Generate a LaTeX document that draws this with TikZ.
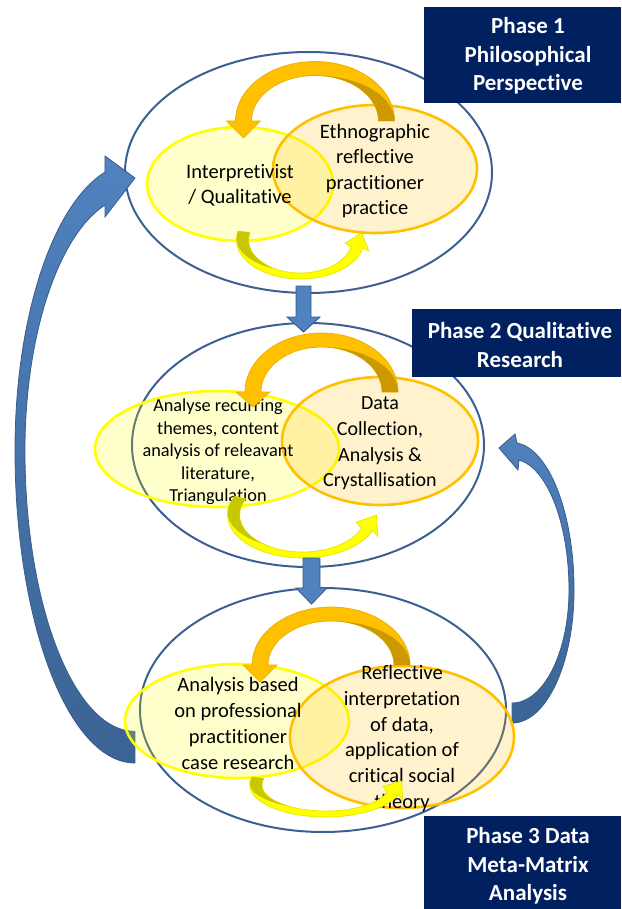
\documentclass[tikz,border=0pt]{standalone}
\usepackage{fontspec}
\setmainfont{Carlito}[Ligatures=NoCommon]
\usetikzlibrary{shapes.geometric}
\definecolor{navy}{HTML}{002060}
\definecolor{blueln}{RGB}{60,96,145}
\definecolor{bluefill}{HTML}{5082BF}
\definecolor{bluedark}{HTML}{3B6394}
\definecolor{blueedge}{HTML}{385D8A}
\definecolor{ylw}{HTML}{FFFF00}
\definecolor{org}{HTML}{FFC000}
\definecolor{orgdk}{HTML}{CC9A00}
\definecolor{orgedge}{HTML}{EBB000}
\definecolor{ylwdk}{HTML}{C8C800}
\definecolor{ylwedge}{HTML}{E6E600}

% curved down arrow over the top: cx, cy, a, b, head half width, head length
\newcommand\toparr[6]{%
 \begin{scope}[shift={(#1,#2)}]
  \filldraw[fill=org, draw=orgedge, line width=0.7pt]
   ({#3-8},0) -- ({#3+8},0) arc[start angle=0,end angle=-180,x radius=#3+8,y radius=#4+7]
   -- ({-#3-#5},0) -- ({-#3},{#6}) -- ({-#3+#5},0) -- ({-#3+8},0)
   arc[start angle=-180,end angle=0,x radius=#3-8,y radius=#4-7] -- cycle;
  \fill[orgdk]
   ({#3-8},0) -- ({#3+8},0) arc[start angle=0,end angle=-100,x radius=#3+8,y radius=#4-7]
   -- ({(#3-8)*cos(100)},{-(#4-7)*sin(100)})
   arc[start angle=-100,end angle=0,x radius=#3-8,y radius=#4-7] -- cycle;
 \end{scope}}

% curved up arrow under the bottom: cx, cy, a, b, tail angle, head angle, head half width, head length
\newcommand\botarr[8]{%
 \begin{scope}[shift={(#1,#2)}]
  \pgfmathsetmacro\cbPx{#3*cos(#6)}
  \pgfmathsetmacro\cbPy{#4*sin(#6)}
  \pgfmathsetmacro\cbTx{-#3*sin(#6)}
  \pgfmathsetmacro\cbTy{#4*cos(#6)}
  \pgfmathsetmacro\cbTn{veclen(\cbTx,\cbTy)}
  \pgfmathsetmacro\cbtx{\cbTx/\cbTn}
  \pgfmathsetmacro\cbty{\cbTy/\cbTn}
  \pgfmathsetmacro\cbOx{\cbPx+#7*\cbty}
  \pgfmathsetmacro\cbOy{-(\cbPy-#7*\cbtx)}
  \pgfmathsetmacro\cbIx{\cbPx-#7*\cbty}
  \pgfmathsetmacro\cbIy{-(\cbPy+#7*\cbtx)}
  \pgfmathsetmacro\cbHx{\cbPx+#8*\cbtx}
  \pgfmathsetmacro\cbHy{-(\cbPy+#8*\cbty)}
  \filldraw[fill=ylw, draw=ylwedge, line width=0.7pt]
   ({(#3-6)*cos(#5)},{-(#4-3)*sin(#5)}) -- ({(#3+6)*cos(#5)},{-(#4+3)*sin(#5)})
   arc[start angle=-#5,end angle=-#6,x radius=#3+6,y radius=#4+3]
   -- (\cbOx,\cbOy) -- (\cbHx,\cbHy) -- (\cbIx,\cbIy)
   -- ({(#3-6)*cos(#6)},{-(#4-3)*sin(#6)})
   arc[start angle=-#6,end angle=-#5,x radius=#3-6,y radius=#4-3] -- cycle;
  \fill[ylwdk]
   ({(#3-6)*cos(#5)},{-(#4-3)*sin(#5)}) -- ({(#3+6)*cos(#5)},{-(#4+3)*sin(#5)})
   arc[start angle=-#5,end angle=-240,x radius=#3+6,y radius=#4-3]
   -- ({(#3-6)*cos(240)},{-(#4-3)*sin(240)})
   arc[start angle=-240,end angle=-#5,x radius=#3-6,y radius=#4-3] -- cycle;
 \end{scope}}

\begin{document}
\begin{tikzpicture}[x=1pt,y=-1pt,
  outerell/.style={ellipse, draw=blueln, line width=2pt, inner sep=0pt},
  yell/.style={ellipse, draw=ylw, line width=2.6pt, fill=ylw, fill opacity=0.2, draw opacity=1, inner sep=0pt},
  oell/.style={ellipse, draw=org, line width=2.6pt, fill=org, fill opacity=0.2, draw opacity=1, inner sep=0pt},
  bigarrow/.style={draw=blueedge, line width=0.8pt, top color=bluefill, bottom color=bluedark},
  downarr/.style={fill=bluefill, draw=blueedge, line width=0.9pt},
  pbox/.style={rectangle, fill=navy, inner sep=0pt, anchor=north west},
  phtxt/.style={text=white, align=center, inner sep=0pt, font=\fontsize{23}{28.3}\selectfont\bfseries},
  itxt/.style={align=center, inner sep=0pt, text=black}]
\useasboundingbox (0,0) rectangle (621,909);

% outer phase ellipses
\node[outerell, minimum width=367pt, minimum height=241pt] (p1) at (308.5,172.5) {};
\node[outerell, minimum width=352pt, minimum height=244pt] (p2) at (308,445) {};
\node[outerell, minimum width=366pt, minimum height=244pt] (p3) at (323,710) {};

% big feedback arrows
\path[bigarrow] (135,763) arc[start angle=90,end angle=180,x radius=120,y radius=313]
  arc[start angle=180,end angle=255.5,x radius=120,y radius=287]
  -- (105,156) -- (135,178) -- (105,217) -- (105,205)
  arc[start angle=254.2,end angle=180,x radius=110,y radius=255]
  arc[start angle=180,end angle=90,x radius=110,y radius=281] -- cycle;
\path[bigarrow] (512,703) arc[start angle=90,end angle=0,x radius=57,y radius=113]
  arc[start angle=0,end angle=-82.9,x radius=57,y radius=131]
  -- (518,470) -- (499,448) -- (515,434) -- (517,443)
  arc[start angle=-85.4,end angle=0,x radius=62,y radius=147.5]
  arc[start angle=0,end angle=90,x radius=62,y radius=133] -- cycle;

% inner ellipses
\node[yell, minimum width=186pt, minimum height=114pt] (y1) at (240,184) {};
\node[oell, minimum width=204pt, minimum height=128pt] (o1) at (375,169) {};
\node[yell, minimum width=244pt, minimum height=116pt] (y2) at (217,449) {};
\node[oell, minimum width=196pt, minimum height=128pt] (o2) at (380,441) {};
\node[yell, minimum width=224pt, minimum height=114pt] (y3) at (237,721) {};
\node[oell, minimum width=224pt, minimum height=142pt] (o3) at (402,737) {};

% texts
\node[itxt, font=\fontsize{20.5}{25.2}\selectfont] (ty1) at (240,185) {Interpretivist\\/ Qualitative};
\node[itxt, font=\fontsize{20.5}{25.3}\selectfont] (to1) at (375,171) {Ethnographic\\reflective\\practitioner\\practice};
\node[itxt, font=\fontsize{18.3}{22.6}\selectfont] (ty2) at (218,452) {Analyse recurring\\themes, content\\analysis of releavant\\literature,\\Triangulation};
\node[itxt, font=\fontsize{20}{25.6}\selectfont] (to2) at (380,443.5) {Data\\Collection,\\Analysis \&\\Crystallisation};
\node[itxt, font=\fontsize{20.5}{25.8}\selectfont] (ty3) at (238,723.5) {Analysis based\\on professional\\practitioner\\case research};
\node[itxt, font=\fontsize{20.5}{25.7}\selectfont] (to3) at (402,738.5) {Reflective\\interpretation\\of data,\\application of\\critical social\\theory};

% cycle arrows inside phases
\toparr{315}{121}{71.5}{52.5}{17}{17}
\botarr{300.3}{240}{57.8}{36}{166.8}{348.5}{12.5}{15}
\toparr{321.5}{392}{68.5}{52}{17}{15}
\botarr{302.6}{515}{69}{40}{154.2}{339}{13}{17}
\toparr{331}{665}{71}{51}{17}{17}
\botarr{325.8}{785}{70}{29}{165.5}{343.4}{12}{15}

% phase-to-phase arrows
\filldraw[downarr] (296,286) -- (311,286) -- (311,317) -- (320,317) -- (303.5,332) -- (287,317) -- (296,317) -- cycle;
\filldraw[downarr] (303,558) -- (320,558) -- (320,588) -- (327,588) -- (311.5,604) -- (296,588) -- (303,588) -- cycle;

% phase labels
\node[pbox, minimum width=197pt, minimum height=96pt] (b1) at (424,7) {};
\node[pbox, minimum width=209pt, minimum height=68pt] (b2) at (412,309) {};
\node[pbox, minimum width=197pt, minimum height=96pt] (b3) at (424,816) {};
\node[phtxt] (l1) at (528,56) {Phase 1\\Philosophical\\Perspective};
\node[phtxt] (l2) at (520,345) {Phase 2 Qualitative\\Research};
\node[phtxt] (l3) at (528,866) {Phase 3 Data\\Meta-Matrix\\Analysis};
\end{tikzpicture}
\end{document}
